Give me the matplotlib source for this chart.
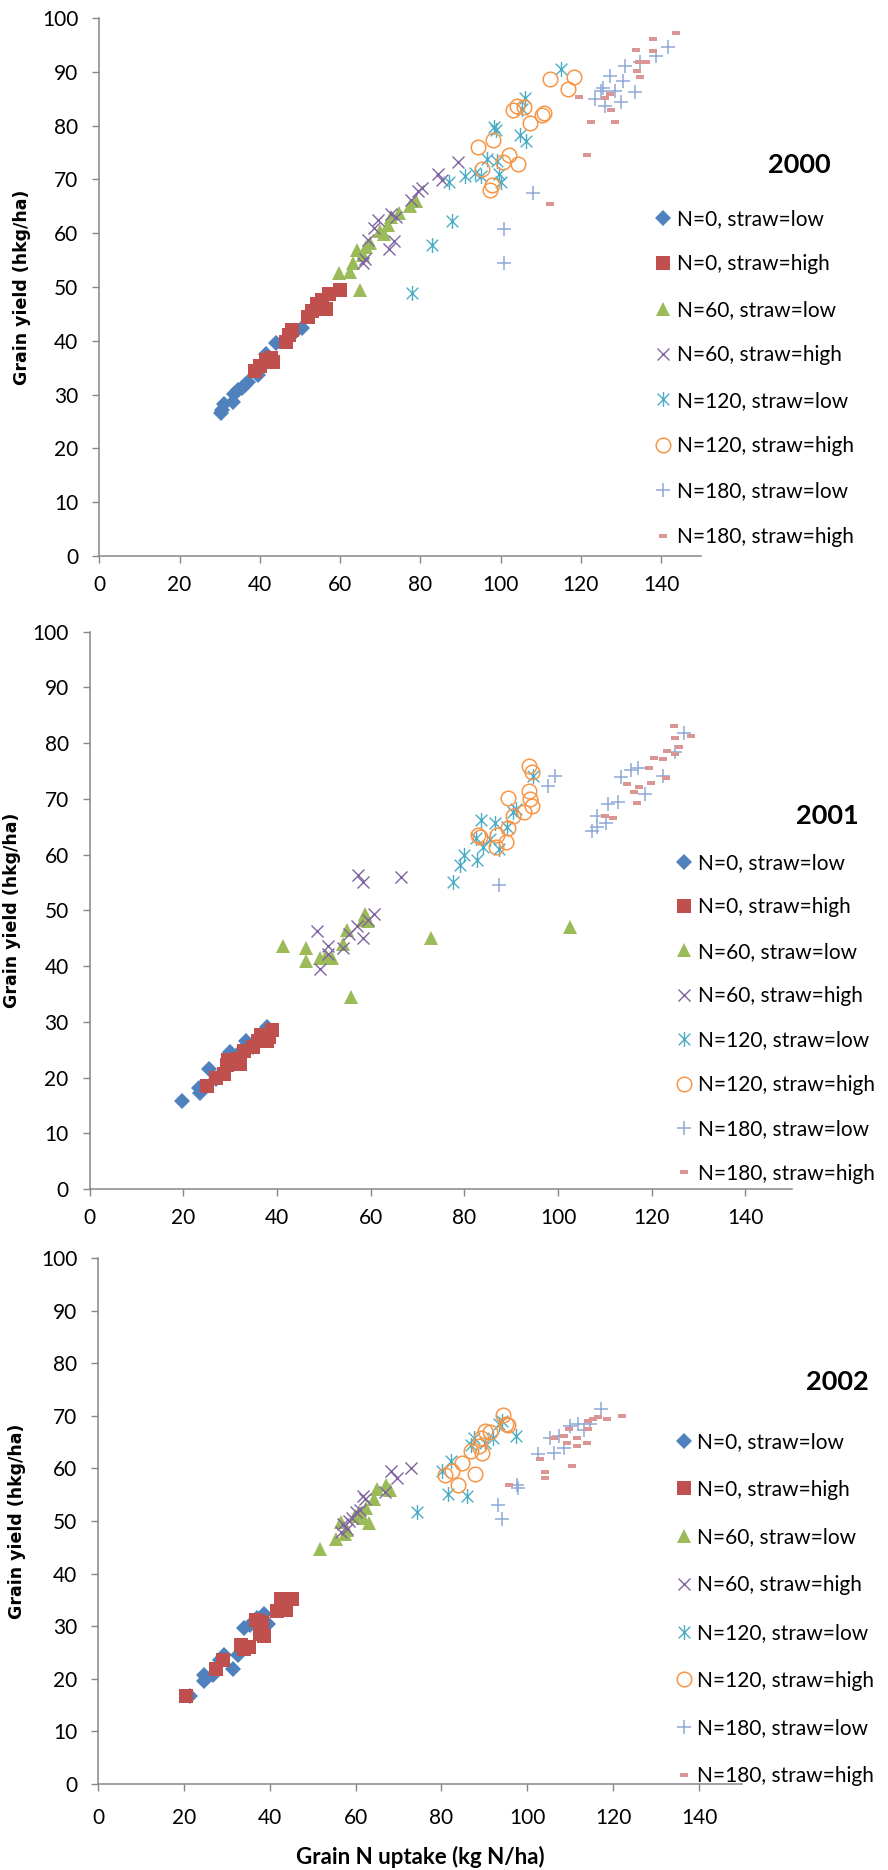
import matplotlib
matplotlib.use("Agg")
import matplotlib.pyplot as plt
from matplotlib.path import Path

# ---------------- data: grain N uptake (kg N/ha) vs grain yield (hkg/ha) ----------------
series_labels = ["N=0, straw=low", "N=0, straw=high", "N=60, straw=low", "N=60, straw=high",
                 "N=120, straw=low", "N=120, straw=high", "N=180, straw=low", "N=180, straw=high"]
years = ["2000", "2001", "2002"]
x_ticks = [0, 20, 40, 60, 80, 100, 120, 140]
y_ticks = [0, 10, 20, 30, 40, 50, 60, 70, 80, 90, 100]

# 2000
N0L_2000_x = [30.3, 30.6, 31.0, 33.2, 33.5, 34.5, 35.5, 36.3, 37.0, 39.5, 41.5, 44.0, 48.5, 50.5]
N0L_2000_y = [26.5, 27.2, 28.3, 28.7, 30.2, 30.8, 31.3, 31.8, 32.4, 33.6, 37.5, 39.5, 41.5, 42.4]
N0H_2000_x = [38.8, 40.0, 41.5, 42.8, 43.2, 46.5, 47.2, 48.0, 52.0, 53.0, 54.3, 55.5, 56.5, 57.3, 60.0]
N0H_2000_y = [34.3, 35.3, 36.4, 36.8, 36.0, 39.8, 41.0, 42.0, 44.5, 45.5, 46.8, 47.5, 46.0, 48.7, 49.5]
N60L_2000_x = [59.7, 62.5, 63.2, 64.2, 65.0, 65.8, 66.5, 67.5, 70.0, 71.0, 72.0, 72.8, 74.8, 77.5, 78.8]
N60L_2000_y = [52.6, 52.8, 54.5, 56.8, 49.5, 56.0, 57.5, 58.2, 60.5, 59.8, 61.5, 63.0, 63.8, 65.0, 66.0]
N60H_2000_x = [65.6, 66.3, 67.0, 68.4, 69.4, 72.3, 73.4, 72.7, 74.0, 77.6, 79.5, 80.3, 84.4, 85.4, 89.3]
N60H_2000_y = [54.4, 55.2, 58.8, 61.0, 62.5, 57.0, 58.5, 63.6, 63.0, 66.2, 67.8, 68.4, 71.0, 69.8, 73.3]
N120L_2000_x = [77.9, 83.0, 87.8, 87.2, 91.0, 93.5, 95.0, 96.5, 98.3, 98.8, 99.2, 99.5, 100.0,
                104.8, 106.2, 105.3, 106.0, 115.0]
N120L_2000_y = [48.9, 57.8, 62.2, 69.5, 70.6, 71.2, 70.6, 73.8, 79.8, 79.2, 73.5, 71.0, 69.5,
                78.2, 77.2, 83.0, 85.2, 90.5]
N120H_2000_x = [94.3, 95.3, 97.4, 97.8, 98.1, 100.6, 102.0, 104.4, 103.0, 104.0, 105.8, 107.3,
                110.3, 110.8, 112.2, 116.7, 118.3]
N120H_2000_y = [76.0, 72.0, 68.0, 68.9, 77.4, 73.2, 74.6, 72.8, 82.9, 83.6, 83.4, 80.4,
                82.0, 82.4, 88.6, 86.8, 89.1]
N180L_2000_x = [100.9, 100.9, 108.0, 123.5, 124.9, 126.0, 127.3, 128.4, 130.1, 130.5, 130.9,
                133.4, 134.8, 138.6, 141.8, 125.5]
N180L_2000_y = [54.4, 60.7, 67.5, 84.9, 86.4, 83.6, 89.3, 86.4, 84.3, 88.2, 91.0,
                86.2, 91.9, 93.0, 94.6, 87.0]
N180H_2000_x = [112.2, 121.4, 119.5, 122.4, 126.0, 127.4, 127.3, 128.5, 133.8, 134.1, 134.8,
                134.6, 136.2, 138.0, 137.9, 143.7]
N180H_2000_y = [65.4, 74.6, 85.3, 80.7, 85.1, 82.9, 85.9, 80.7, 94.1, 90.1, 89.0,
                91.9, 91.8, 93.9, 96.1, 97.2]

# 2001
N0L_2001_x = [19.8, 23.3, 23.6, 25.5, 27.0, 28.5, 29.9, 31.0, 32.5, 33.5, 34.8, 36.0, 37.8, 38.5]
N0L_2001_y = [15.8, 18.2, 17.2, 21.5, 19.8, 21.0, 24.5, 23.0, 25.0, 26.5, 25.5, 27.0, 29.0, 28.3]
N0H_2001_x = [25.1, 26.9, 28.7, 29.3, 29.6, 31.7, 32.2, 32.9, 34.8, 35.9, 36.6, 37.8, 38.4, 39.0]
N0H_2001_y = [18.4, 19.9, 20.6, 22.3, 23.2, 23.4, 22.4, 24.8, 25.5, 26.6, 27.7, 26.5, 27.3, 28.6]
N60L_2001_x = [41.4, 46.2, 46.2, 49.2, 50.5, 51.7, 54.1, 55.0, 55.9, 58.3, 58.9, 59.5, 72.8, 102.6]
N60L_2001_y = [43.6, 43.3, 40.9, 41.5, 41.8, 41.5, 44.0, 46.5, 34.4, 48.2, 49.3, 48.0, 45.0, 47.0]
N60H_2001_x = [49.2, 48.6, 50.8, 51.0, 54.1, 55.3, 57.1, 57.3, 58.3, 58.3, 59.5, 60.7, 66.4]
N60H_2001_y = [39.5, 46.3, 43.6, 42.2, 43.3, 45.7, 47.2, 56.4, 55.0, 45.0, 48.2, 49.3, 55.9]
N120L_2001_x = [77.6, 79.1, 80.0, 82.6, 82.4, 83.6, 84.0, 85.4, 86.6, 87.3, 89.1, 90.3, 91.1, 94.7]
N120L_2001_y = [55.0, 58.2, 59.9, 59.1, 62.9, 66.3, 61.3, 62.8, 65.6, 61.0, 64.9, 67.7, 68.1, 74.1]
N120H_2001_x = [83.0, 83.4, 86.7, 88.8, 86.9, 89.4, 89.4, 90.3, 92.7, 93.9, 94.1, 94.5, 93.9, 94.5]
N120H_2001_y = [63.5, 63.2, 61.3, 62.2, 63.5, 64.7, 70.2, 67.0, 67.6, 71.4, 69.9, 68.7, 75.9, 74.8]
N180L_2001_x = [87.5, 97.9, 99.3, 107.2, 108.4, 108.4, 110.2, 110.6, 112.9, 113.5, 115.6, 117.0,
                118.6, 122.4, 124.9, 126.8]
N180L_2001_y = [54.6, 72.3, 74.1, 64.2, 64.9, 67.0, 65.6, 69.1, 69.5, 73.9, 75.2, 75.5,
                70.9, 74.1, 78.4, 81.9]
N180H_2001_x = [110.0, 111.8, 114.8, 116.3, 117.2, 116.8, 119.5, 119.8, 120.4, 122.4, 123.1,
                123.3, 124.9, 125.8, 124.9, 124.7, 128.3]
N180H_2001_y = [67.0, 66.5, 72.7, 71.3, 72.2, 69.3, 75.5, 72.9, 77.4, 77.1, 73.8,
                78.6, 78.0, 79.3, 80.9, 83.0, 81.2]

# 2002
N0L_2002_x = [21.5, 24.8, 24.8, 26.8, 28.5, 29.4, 31.4, 32.7, 34.0, 34.0, 35.4, 37.0, 38.7, 39.7]
N0L_2002_y = [16.8, 19.5, 20.7, 20.7, 23.5, 24.6, 21.9, 24.6, 25.8, 29.6, 30.2, 31.5, 32.4, 30.4]
N0H_2002_x = [20.6, 27.4, 29.0, 33.4, 34.0, 35.1, 36.7, 37.7, 38.3, 38.7, 41.7, 42.6, 43.7, 45.3]
N0H_2002_y = [16.8, 21.9, 23.6, 26.5, 25.6, 26.1, 31.2, 28.5, 30.8, 28.1, 32.9, 35.1, 33.1, 35.1]
N60L_2002_x = [51.8, 55.5, 56.5, 58.1, 59.8, 60.7, 61.7, 63.1, 64.4, 65.0, 67.1, 68.1, 57.5, 62.5]
N60L_2002_y = [44.6, 46.5, 49.8, 48.3, 51.0, 51.7, 50.6, 49.7, 54.1, 56.0, 56.8, 55.8, 47.5, 52.5]
N60H_2002_x = [56.5, 57.1, 57.9, 59.1, 60.2, 61.0, 61.7, 62.3, 66.8, 68.3, 69.6, 72.9, 58.5]
N60H_2002_y = [47.9, 49.4, 48.5, 50.6, 51.7, 52.1, 54.8, 54.1, 55.6, 59.5, 58.1, 60.0, 50.0]
N120L_2002_x = [74.3, 81.5, 85.9, 80.2, 82.2, 86.8, 87.5, 90.1, 92.1, 93.4, 94.1, 97.4]
N120L_2002_y = [51.7, 55.2, 54.8, 59.5, 61.4, 64.5, 65.7, 64.9, 65.7, 68.4, 69.0, 66.1]
N120H_2002_x = [80.9, 82.5, 83.9, 84.8, 87.9, 86.8, 88.8, 89.2, 89.4, 90.1, 91.4, 94.4, 95.1, 95.6]
N120H_2002_y = [58.7, 59.5, 56.8, 61.1, 59.0, 63.4, 64.3, 65.7, 63.0, 67.1, 67.0, 70.2, 68.4, 68.2]
N180L_2002_x = [93.1, 94.1, 97.6, 97.9, 102.4, 106.3, 105.3, 107.3, 108.6, 109.9, 111.9, 113.2,
                114.5, 117.1]
N180L_2002_y = [53.1, 50.3, 56.8, 56.2, 62.8, 63.0, 65.7, 66.1, 63.8, 68.0, 68.4, 67.3,
                68.4, 71.3]
N180H_2002_x = [95.8, 102.9, 104.2, 104.2, 106.3, 108.6, 109.2, 110.3, 111.6, 111.6, 113.9,
                114.1, 114.1, 115.2, 116.5, 118.5, 122.0, 109.6]
N180H_2002_y = [56.8, 61.8, 59.3, 58.2, 65.7, 66.1, 64.8, 60.5, 65.7, 64.2, 64.8,
                67.5, 69.0, 69.4, 69.7, 69.4, 70.0, 67.5]

data_2000 = [(N0L_2000_x, N0L_2000_y), (N0H_2000_x, N0H_2000_y), (N60L_2000_x, N60L_2000_y),
             (N60H_2000_x, N60H_2000_y), (N120L_2000_x, N120L_2000_y), (N120H_2000_x, N120H_2000_y),
             (N180L_2000_x, N180L_2000_y), (N180H_2000_x, N180H_2000_y)]
data_2001 = [(N0L_2001_x, N0L_2001_y), (N0H_2001_x, N0H_2001_y), (N60L_2001_x, N60L_2001_y),
             (N60H_2001_x, N60H_2001_y), (N120L_2001_x, N120L_2001_y), (N120H_2001_x, N120H_2001_y),
             (N180L_2001_x, N180L_2001_y), (N180H_2001_x, N180H_2001_y)]
data_2002 = [(N0L_2002_x, N0L_2002_y), (N0H_2002_x, N0H_2002_y), (N60L_2002_x, N60L_2002_y),
             (N60H_2002_x, N60H_2002_y), (N120L_2002_x, N120L_2002_y), (N120H_2002_x, N120H_2002_y),
             (N180L_2002_x, N180L_2002_y), (N180H_2002_x, N180H_2002_y)]

# ---------------- styling ----------------
MAIN_FONT = ["Lato", "DejaVu Sans"]
plt.rcParams["font.family"] = MAIN_FONT

asterisk = Path([(0, -1), (0, 1), (-0.78, -0.78), (0.78, 0.78), (-0.78, 0.78), (0.78, -0.78)],
                [Path.MOVETO, Path.LINETO, Path.MOVETO, Path.LINETO, Path.MOVETO, Path.LINETO])
dash = Path([(-1, -0.5), (1, -0.5), (1, 0.5), (-1, 0.5), (-1, -0.5)],
            [Path.MOVETO, Path.LINETO, Path.LINETO, Path.LINETO, Path.CLOSEPOLY])

styles = [
    dict(marker="D", ms=8.0, color="#4F81BD", mew=0),
    dict(marker="s", ms=9.6, color="#C0504D", mew=0),
    dict(marker="^", ms=10.0, color="#9BBB59", mew=0),
    dict(marker="x", ms=9.0, color="#8064A2", mew=1.0),
    dict(marker=asterisk, ms=10.8, color="#4BACC6", mew=1.0),
    dict(marker="o", ms=10.5, color="#F79646", mew=1.1, mfc="none"),
    dict(marker="+", ms=10.5, color="#8EA8D6", mew=1.1),
    dict(marker=dash, ms=6.0, color="#D99694", mew=0),
]

AXIS_GRAY = "#868686"
LEG_FS = 15.0
W, H = 888, 1870
fig = plt.figure(figsize=(W / 100, H / 100), dpi=100)


def px_axes(left, top, right, bottom):
    return fig.add_axes([left / W, 1 - bottom / H, (right - left) / W, (bottom - top) / H])


panels = [
    # axes box (px), year label centre, legend top-left, legend row spacing, y-label x
    dict(box=(99.3, 18, 701.3, 556), year=(799, 165), leg=(654.7, 209), sp=1.22, ylx=22,
         data=data_2000, xlabel=False),
    dict(box=(89.5, 631.7, 792.3, 1189), year=(827, 816), leg=(675.7, 853), sp=1.17, ylx=12,
         data=data_2001, xlabel=False),
    dict(box=(98, 1258, 742, 1784), year=(837, 1382), leg=(675.2, 1432), sp=1.33, ylx=17.5,
         data=data_2002, xlabel=True),
]

for yr, p in zip(years, panels):
    left, top, right, bottom = p["box"]
    ax = px_axes(left, top, right, bottom)
    for (xs, ys), st, lab in zip(p["data"], styles, series_labels):
        ax.plot(xs, ys, linestyle="none", marker=st["marker"], markersize=st["ms"],
                color=st["color"], markeredgewidth=st["mew"],
                markerfacecolor=st.get("mfc", st["color"]), label=lab, clip_on=False)
    ax.set_xlim(0, 150)
    ax.set_ylim(0, 100)
    ax.set_xticks(x_ticks)
    ax.set_yticks(y_ticks)
    for side in ("top", "right"):
        ax.spines[side].set_visible(False)
    for side in ("left", "bottom"):
        ax.spines[side].set_color(AXIS_GRAY)
        ax.spines[side].set_linewidth(1.1)
    ax.tick_params(axis="both", direction="out", length=5, width=1.0, color=AXIS_GRAY,
                   labelsize=15, labelcolor="black")
    ax.tick_params(axis="y", pad=10)
    ax.tick_params(axis="x", pad=9 if not p["xlabel"] else 12)

    # vertical axis title, centred on the plotting area
    fig.text(p["ylx"] / W, 1 - (top + bottom) / 2 / H, "Grain yield (hkg/ha)",
             rotation=90, ha="center", va="center", family="DejaVu Sans",
             fontweight="bold", fontsize=12.5)
    if p["xlabel"]:
        fig.text(420 / W, 1 - 1857 / H, "Grain N uptake (kg N/ha)", ha="center", va="center",
                 fontsize=16, fontweight="bold")
    fig.text(p["year"][0] / W, 1 - p["year"][1] / H, yr, ha="center", va="center",
             fontsize=19.5, fontweight="bold")
    ax.legend(loc="upper left", bbox_to_anchor=(p["leg"][0] / W, 1 - p["leg"][1] / H),
              bbox_transform=fig.transFigure, frameon=False, fontsize=LEG_FS,
              handlelength=0.8, handletextpad=0.27, borderpad=0, borderaxespad=0,
              labelspacing=p["sp"], numpoints=1, markerscale=1.0)

fig.savefig("out.png", dpi=100)
